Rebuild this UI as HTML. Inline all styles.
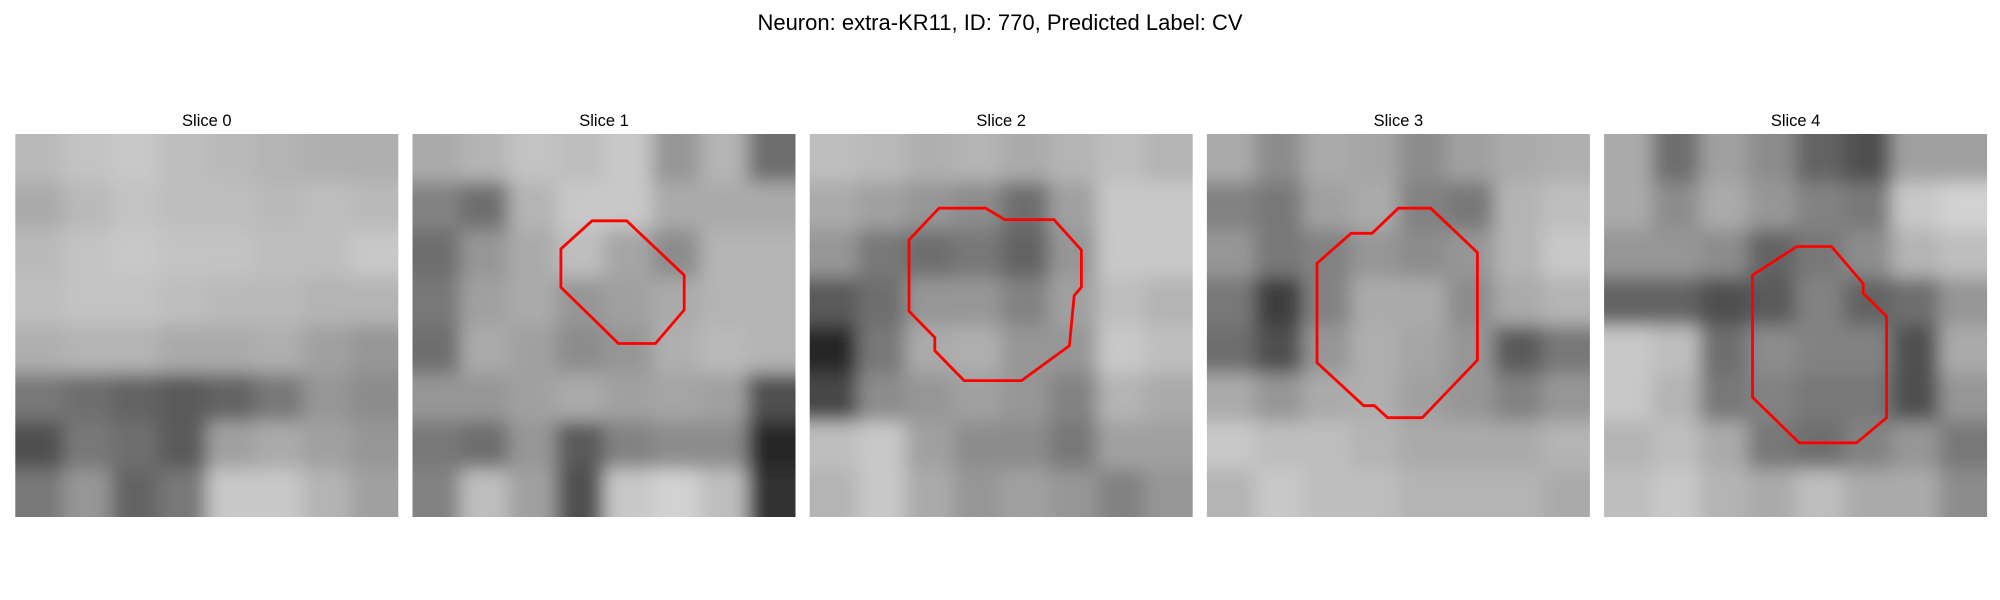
<!DOCTYPE html>
<html><head><meta charset="utf-8"><style>
html,body{margin:0;padding:0;background:#fff;}
svg{display:block;font-family:"Liberation Sans","DejaVu Sans",sans-serif;}
</style></head><body>
<svg id="fig" width="2000" height="600" viewBox="0 0 2000 600">
<text x="1000" y="30" text-anchor="middle" font-size="22" fill="#000">Neuron: extra-KR11, ID: 770, Predicted Label: CV</text>
<g id="panels"></g>
</svg>
<script>
// Coarse 8x8 intensity estimates per slice (0 = black, 255 = white)
const sliceTitles = ["Slice 0","Slice 1","Slice 2","Slice 3","Slice 4"];
const slice0 = [
[185,195,200,190,185,180,175,175],
[170,185,195,190,190,185,190,185],
[185,195,200,195,195,190,190,200],
[190,195,195,190,185,185,180,180],
[175,180,180,170,170,175,160,150],
[120,110,100,90,100,120,150,140],
[80,120,110,90,160,170,160,150],
[120,150,100,120,200,200,180,160]];
const slice1 = [
[170,180,195,190,200,150,180,110],
[130,110,180,200,200,170,170,170],
[110,150,170,190,165,140,180,180],
[120,160,170,150,160,170,180,180],
[110,170,160,140,150,175,185,180],
[150,150,160,170,160,165,160,80],
[120,110,150,90,130,140,140,40],
[130,190,160,80,200,210,190,50]];
const slice2 = [
[190,185,175,180,170,180,190,180],
[170,160,150,140,110,160,200,200],
[150,120,110,120,100,150,200,200],
[90,110,150,150,130,160,190,180],
[40,120,170,175,150,150,200,190],
[70,140,150,160,150,130,180,170],
[190,200,160,140,140,120,160,160],
[180,200,170,150,160,150,130,150]];
const slice3 = [
[170,140,170,165,140,160,170,175],
[130,120,160,170,130,120,180,190],
[150,120,130,150,140,150,180,200],
[120,60,130,170,170,140,170,180],
[110,80,150,175,165,150,90,120],
[170,150,170,175,160,150,130,150],
[200,190,190,180,170,170,170,180],
[180,200,190,190,180,180,180,170]];
const slice4 = [
[170,110,160,140,100,80,160,160],
[170,140,170,150,130,120,200,210],
[150,150,140,100,120,140,180,190],
[100,100,80,90,130,100,110,150],
[200,190,110,140,130,130,80,170],
[200,180,120,130,120,120,80,150],
[180,190,170,120,110,130,150,120],
[190,200,180,170,190,170,170,140]];
const slices = [slice0,slice1,slice2,slice3,slice4];
// Contours in image-pixel units (32x32 grid)
const contour1 = [[15.0,7.25],[17.9,7.25],[22.7,11.8],[22.7,14.7],[20.3,17.5],[17.2,17.5],[12.4,12.8],[12.4,9.6]];
const contour2 = [[10.8,6.2],[14.7,6.2],[16.3,7.15],[20.4,7.15],[22.7,9.7],[22.7,12.8],[22.1,13.5],[21.7,17.7],[17.7,20.6],[12.9,20.6],[10.45,18.1],[10.45,17],[8.3,14.8],[8.3,8.85]];
const contour3 = [[16,6.2],[18.7,6.2],[22.6,9.9],[22.6,18.9],[18,23.7],[15.1,23.7],[14,22.7],[13.1,22.7],[9.2,19.1],[9.2,10.8],[12.05,8.3],[13.8,8.3]];
const contour4 = [[16.1,9.4],[19,9.4],[21.65,12.5],[21.65,13.3],[23.6,15.25],[23.6,23.7],[21.1,25.8],[16.3,25.8],[12.4,22],[12.4,11.8]];
const contours = [null,contour1,contour2,contour3,contour4];

const NS="http://www.w3.org/2000/svg";
const panelX0=15.3, panelStep=397.2, panelW=383, panelY=134, pad=40;
const g=document.getElementById('panels');
function mk(t,a){const e=document.createElementNS(NS,t);for(const k in a)e.setAttribute(k,a[k]);return e;}
slices.forEach((grid,i)=>{
  const x0=panelX0+i*panelStep;
  const pg=mk('g',{});
  
  
  const t=mk('text',{x:x0+panelW/2,y:126,'text-anchor':'middle','font-size':'16.5',fill:'#000'});
  t.textContent=sliceTitles[i];
  
  
  pg.appendChild(t);
  const fid='blur'+i, cid='clip'+i;
  const f=mk('filter',{id:fid,filterUnits:'userSpaceOnUse',x:x0-pad,y:panelY-pad,width:panelW+2*pad,height:panelW+2*pad});
  f.appendChild(mk('feGaussianBlur',{stdDeviation:'9'}));
  pg.appendChild(f);
  const cp=mk('clipPath',{id:cid});
  cp.appendChild(mk('rect',{x:x0,y:panelY,width:panelW,height:panelW}));
  pg.appendChild(cp);
  const clipG=mk('g',{'clip-path':'url(#'+cid+')'});
  const img=mk('g',{filter:'url(#'+fid+')'});
  
  
  const n=grid.length, c=panelW/n;
  grid.forEach((row,r)=>row.forEach((v,col)=>{
    let x=x0+col*c, y=panelY+r*c, w=c+0.5, h=c+0.5;
    if(col===0){x-=pad;w+=pad;}
    if(col===n-1){w+=pad;}
    if(r===0){y-=pad;h+=pad;}
    if(r===n-1){h+=pad;}
    img.appendChild(mk('rect',{x:x,y:y,width:w,height:h,fill:`rgb(${v},${v},${v})`}));
  }));
  clipG.appendChild(img);
  pg.appendChild(clipG);
  const ct=contours[i];
  if(ct){
    const s=panelW/32;
    const pts=ct.map(p=>(x0+p[0]*s).toFixed(1)+','+(panelY+p[1]*s).toFixed(1)).join(' ');
    const pl=mk('polygon',{points:pts,fill:'none',stroke:'#ff0000','stroke-width':'2.8','stroke-linejoin':'round'});
    
    
    pg.appendChild(pl);
  }
  g.appendChild(pg);
});
</script>
</body></html>
